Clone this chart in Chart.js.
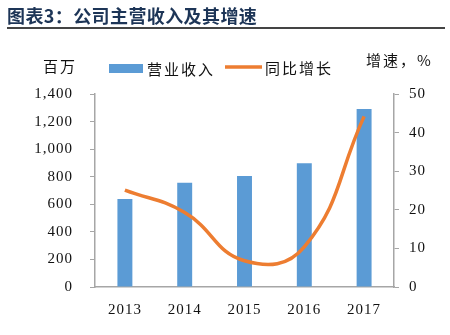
<!DOCTYPE html>
<html>
<head>
<meta charset="utf-8">
<script src="https://cdn.jsdelivr.net/npm/chart.js@4"></script>
<style>
body{margin:0;background:#fff;width:450px;height:335px;overflow:hidden;position:relative;}
#title{position:absolute;left:7px;top:2px;font:bold 18px "Noto Sans CJK SC";color:#1d3557;letter-spacing:0.4px;white-space:nowrap;}
#rule{position:absolute;left:7px;top:27px;width:438px;height:2px;background:#444;}
#wrap{position:absolute;left:0;top:0;width:450px;height:335px;}
</style>
</head>
<body>
<div id="wrap"><canvas id="grafico" width="450" height="335"></canvas></div>
<div id="title">图表3：公司主营收入及其增速</div>
<div id="rule"></div>
<script>
const anos = ["2013","2014","2015","2016","2017"];
const receita = [638, 756, 805, 897, 1291];
const crescimento = [25.1, 19.3, 6.8, 10.4, 44.2];
const nomeBarra = "营业收入";
const nomeLinha = "同比增长";
const tituloEsq = "百万";
const tituloDir = "增速，%";

const serif = "'Liberation Serif', 'Times New Roman', serif";
const cjk = "'Noto Sans CJK SC', sans-serif";

const extras = {
id:"extras",
beforeLayout(c){ c.ctx.letterSpacing = "1px"; },
beforeDraw(c){ c.ctx.letterSpacing = "1px"; },
afterDraw(c){
const ctx = c.ctx;
ctx.save();
ctx.letterSpacing = "2px";
ctx.font = "15px " + cjk;
ctx.fillStyle = "#111";
ctx.textBaseline = "middle";
ctx.textAlign = "left";
ctx.fillText(tituloEsq, 43, 66);
ctx.fillText(tituloDir, 366, 60);
// legenda
ctx.fillStyle = "#5B9BD5";
ctx.fillRect(109, 64, 34, 9);
ctx.fillStyle = "#111";
ctx.fillText(nomeBarra, 147, 69);
ctx.strokeStyle = "#ED7D31";
ctx.lineWidth = 3.5;
ctx.beginPath();
ctx.moveTo(225, 67);
ctx.lineTo(262, 67);
ctx.stroke();
ctx.fillText(nomeLinha, 265, 68);
ctx.restore();
}
};

new Chart(document.getElementById("grafico"),{
data:{
labels:anos,
datasets:[
{
type:"line",
label:nomeLinha,
data:crescimento,
yAxisID:"y2",
borderColor:"#ED7D31",
borderWidth:3.5,
pointRadius:0,
tension:0.45,
order:0
},
{
type:"bar",
label:nomeBarra,
data:receita,
yAxisID:"y",
backgroundColor:"#5B9BD5",
barPercentage:0.25,
categoryPercentage:1,
order:1
}
]
},
options:{
responsive:false,
animation:false,
devicePixelRatio:1,
layout:{padding:{top:94,left:0,right:0,bottom:0}},
plugins:{legend:{display:false},tooltip:{enabled:false}},
scales:{
x:{
grid:{display:false},
border:{color:"#A6A6A6",width:1.5},
ticks:{color:"#111",font:{family:serif,size:15},padding:6,maxRotation:0,autoSkip:false},
afterFit(s){ s.height = 48; }
},
y:{
position:"left",
min:0,max:1400,
grid:{drawOnChartArea:false,tickLength:5,color:"#A6A6A6"},
border:{color:"#A6A6A6",width:1.5},
ticks:{stepSize:200,color:"#111",font:{family:serif,size:15},padding:17,
callback:v=>v.toLocaleString("en-US")},
afterFit(s){ s.width = 95; }
},
y2:{
position:"right",
min:0,max:50,
grid:{drawOnChartArea:false,tickLength:5,color:"#A6A6A6"},
border:{color:"#A6A6A6",width:1.5},
ticks:{stepSize:10,color:"#111",font:{family:serif,size:15},padding:10},
afterFit(s){ s.width = 56; }
}
}
},
plugins:[extras]
});
</script>
</body>
</html>
